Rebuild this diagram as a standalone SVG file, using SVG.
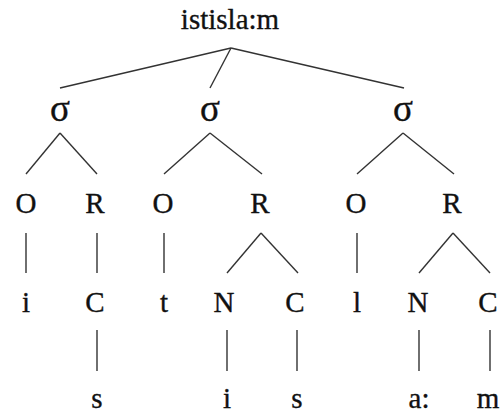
<svg xmlns="http://www.w3.org/2000/svg" width="502" height="414" viewBox="0 0 502 414">
<style>
text{font-family:"Liberation Serif","Times New Roman",serif;font-size:29px;fill:#111;stroke:#111;stroke-width:0.35;text-anchor:middle}
text.sig{font-size:37px}
.c line{stroke:#333;stroke-width:1.4;stroke-linecap:butt}
</style>
<rect width="502" height="414" fill="#fff"/>
<g id="connectors" class="c">
<line x1="231" y1="48" x2="60" y2="88"/>
<line x1="231" y1="48" x2="210" y2="88"/>
<line x1="231" y1="48" x2="404" y2="88"/>
<line x1="60" y1="133" x2="26" y2="174"/>
<line x1="60" y1="133" x2="97" y2="174"/>
<line x1="210" y1="133" x2="164" y2="174"/>
<line x1="210" y1="133" x2="262" y2="174"/>
<line x1="403" y1="133" x2="357" y2="174"/>
<line x1="403" y1="133" x2="454" y2="174"/>
<line x1="26" y1="233" x2="26" y2="273"/>
<line x1="97" y1="233" x2="97" y2="273"/>
<line x1="164" y1="233" x2="164" y2="273"/>
<line x1="261" y1="233" x2="227" y2="273"/>
<line x1="261" y1="233" x2="298" y2="273"/>
<line x1="357" y1="233" x2="357" y2="273"/>
<line x1="453" y1="233" x2="419" y2="273"/>
<line x1="453" y1="233" x2="490" y2="273"/>
<line x1="97" y1="330" x2="97" y2="371"/>
<line x1="227" y1="330" x2="227" y2="371"/>
<line x1="297" y1="330" x2="297" y2="371"/>
<line x1="419" y1="330" x2="419" y2="371"/>
<line x1="490" y1="330" x2="490" y2="371"/>
</g>
<g id="root"><text x="230" y="29">istisla:m</text></g>
<g id="syl1"><text class="sig" x="60" y="121">σ</text></g>
<g id="syl2"><text class="sig" x="210" y="121">σ</text></g>
<g id="syl3"><text class="sig" x="403" y="121">σ</text></g>
<g id="O1"><text x="26" y="213">O</text></g>
<g id="R1"><text x="95" y="213">R</text></g>
<g id="O2"><text x="163" y="213">O</text></g>
<g id="R2"><text x="260" y="213">R</text></g>
<g id="O3"><text x="356" y="213">O</text></g>
<g id="R3"><text x="452" y="213">R</text></g>
<g id="i1"><text x="26" y="312">i</text></g>
<g id="C1"><text x="95" y="312">C</text></g>
<g id="t2"><text x="164" y="312">t</text></g>
<g id="N2"><text x="224" y="312">N</text></g>
<g id="C2"><text x="295" y="312">C</text></g>
<g id="l3"><text x="357" y="312">l</text></g>
<g id="N3"><text x="418" y="312">N</text></g>
<g id="C3"><text x="488" y="312">C</text></g>
<g id="s1"><text x="97" y="408">s</text></g>
<g id="i2"><text x="227" y="408">i</text></g>
<g id="s2"><text x="297" y="408">s</text></g>
<g id="a3"><text x="419" y="408">a:</text></g>
<g id="m3"><text x="488" y="408">m</text></g>
</svg>
